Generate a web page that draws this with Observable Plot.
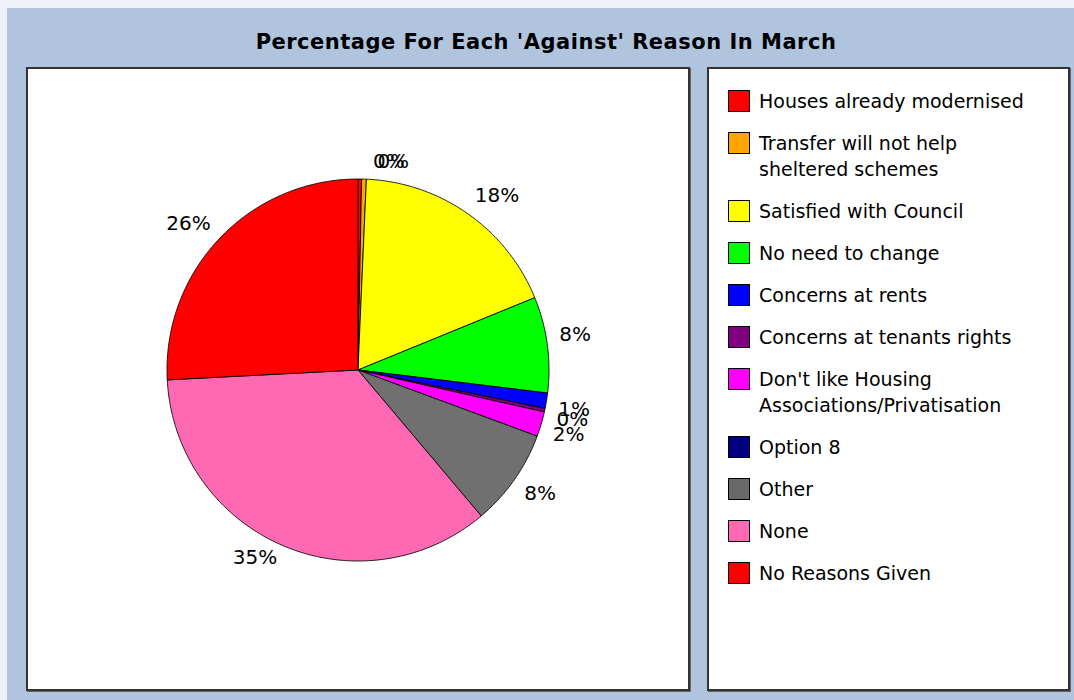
<!DOCTYPE html>
<html>
<head>
<meta charset="utf-8">
<script src="https://cdn.jsdelivr.net/npm/d3@7"></script>
<script src="https://cdn.jsdelivr.net/npm/@observablehq/plot@0.6"></script>
<style>
  html, body { margin: 0; padding: 0; }
  body { width: 1074px; height: 700px; background: #eef2f7; position: relative; overflow: hidden; font-family: "DejaVu Sans", sans-serif; }
  #panel { position: absolute; left: 7px; top: 8px; width: 1067px; height: 692px; background: #b0c4de; }
  #title { position: absolute; left: 0; top: 30px; width: 1092px; text-align: center; font-weight: bold; font-size: 21px; letter-spacing: 0.5px; color: #000; }
  .box { position: absolute; background: #fff; border: 2px solid #333; box-shadow: 1px 1px 0 #666; box-sizing: border-box; }
  #plotbox { left: 26px; top: 67px; width: 664px; height: 624px; }
  #legendbox { left: 707px; top: 67px; width: 363px; height: 624px; padding: 19px 0 0 19px; }
  #plotbox svg { position: absolute; left: 0; top: 0; }
  .item { display: flex; align-items: flex-start; margin-bottom: 16px; }
  .sw { width: 20px; height: 20px; border: 1.5px solid #000; margin-top: 2px; flex: none; }
  .lab { margin-left: 9px; font-size: 19px; line-height: 26px; max-width: 282px; color: #000; }
</style>
</head>
<body>
<div id="panel"></div>
<div id="title">Percentage For Each 'Against' Reason In March</div>
<div class="box" id="plotbox"></div>
<div class="box" id="legendbox"></div>
<script>
const categories = [
  "Houses already modernised",
  "Transfer will not help sheltered schemes",
  "Satisfied with Council",
  "No need to change",
  "Concerns at rents",
  "Concerns at tenants rights",
  "Don't like Housing Associations/Privatisation",
  "Option 8",
  "Other",
  "None",
  "No Reasons Given"
];
const percents = [0.3, 0.4, 18.1, 8.1, 1.3, 0.3, 2.1, 0.0, 8.2, 35.3, 25.8];
const colors = ["#ff0000", "#ffa500", "#ffff00", "#00ff00", "#0000ff", "#800080", "#ff00ff", "#000080", "#707070", "#ff69b4", "#ff0000"];

const R = 191;      // pie radius (in plot units = px)
const RL = 203;     // label anchor radius

const total = d3.sum(percents);
const pie = d3.pie().sort(null).value(d => d)(percents);

// polygon points for each slice
const slicePts = [];
pie.forEach((a, i) => {
  if (a.endAngle - a.startAngle <= 0) return;
  slicePts.push({cat: categories[i], x: 0, y: 0, i});
  const n = Math.max(2, Math.ceil((a.endAngle - a.startAngle) / 0.01));
  for (let k = 0; k <= n; k++) {
    const t = a.startAngle + (a.endAngle - a.startAngle) * k / n;
    slicePts.push({cat: categories[i], x: R * Math.sin(t), y: -R * Math.cos(t), i});
  }
  slicePts.push({cat: categories[i], x: 0, y: 0, i});
});

const labels = pie.map((a, i) => {
  const m = (a.startAngle + a.endAngle) / 2;
  return {i, cat: categories[i], v: percents[i], right: Math.sin(m) >= 0, top: Math.cos(m) > 0,
          x: RL * Math.sin(m), y: -RL * Math.cos(m), text: Math.round(percents[i] / total * 100) + "%"};
}).filter(d => d.v > 0);

const mainLabels = labels.filter(d => d.i > 1);
const topLabels = labels.filter(d => d.i <= 1);
const txt = {x: "x", y: "y", text: "text", fontSize: 20, fill: "#000", fontFamily: "DejaVu Sans, sans-serif"};

const chart = Plot.plot({
  width: 660,
  height: 620,
  margin: 0,
  x: {domain: [-329.5, 330.5], range: [0, 660], axis: null},
  y: {domain: [-300.5, 319.5], range: [0, 620], axis: null},
  color: {domain: categories.map((c, i) => i), range: colors},
  marks: [
    Plot.line(slicePts, {x: "x", y: "y", z: "cat", fill: d => d.i, stroke: "#000", strokeWidth: 1, strokeOpacity: 0.85, curve: "linear"}),
    Plot.text(mainLabels.filter(d => d.right && d.top), {...txt, textAnchor: "start", lineAnchor: "bottom", dy: -2}),
    Plot.text(mainLabels.filter(d => d.right && !d.top), {...txt, textAnchor: "start", lineAnchor: "top", dy: -1}),
    Plot.text(mainLabels.filter(d => !d.right && d.top), {...txt, textAnchor: "end", lineAnchor: "bottom"}),
    Plot.text(mainLabels.filter(d => !d.right && !d.top), {...txt, textAnchor: "end", lineAnchor: "top", dy: -6}),
    Plot.text(topLabels, {...txt, textAnchor: "start", lineAnchor: "bottom", dx: 13, dy: 1})
  ]
});
chart.style.background = "transparent";
document.getElementById("plotbox").appendChild(chart);

// legend
const lg = d3.select("#legendbox");
categories.forEach((c, i) => {
  const it = lg.append("div").attr("class", "item");
  it.append("div").attr("class", "sw").style("background", colors[i] === "#707070" ? "#696969" : colors[i]);
  it.append("div").attr("class", "lab").text(c);
});
</script>
</body>
</html>
